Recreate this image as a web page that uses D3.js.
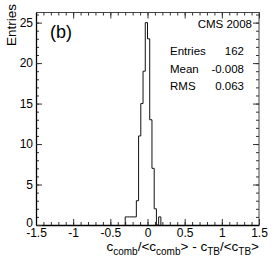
<!DOCTYPE html>
<html><head><meta charset="utf-8">
<script src="https://cdn.jsdelivr.net/npm/d3@7"></script>
<style>body{margin:0;background:#fff}svg{display:block}text{font-family:"Liberation Sans",Arial,Helvetica,sans-serif}</style>
</head><body>
<svg id="c" width="274" height="260"></svg>
<script>
// Histogram data (bin edges, counts)
const binEdges = [-0.30,-0.27,-0.24,-0.21,-0.18,-0.15,-0.12,-0.09,-0.06,-0.03,0.00,0.03,0.06,0.09,0.12,0.15,0.18];
const counts   = [1,1,1,1,1,3,11,15,19,25,23,13,7,2,0,1];
const xTicks = [-1.5,-1,-0.5,0,0.5,1,1.5];
const xTickLabels = ["-1.5","-1","-0.5","0","0.5","1","1.5"];
const yTicks = [0,5,10,15,20,25];
const statNames = ["Entries","Mean","RMS"];
const statValues = ["162","-0.008","0.063"];
const xDomain = [-1.5,1.5];
const yDomain = [0,26.25];

const svg = d3.select("#c");
const L=36, R=259, T=12.5, B=225;
const x = d3.scaleLinear().domain(xDomain).range([L,R]);
const y = d3.scaleLinear().domain(yDomain).range([B,T]);

// frame top/right
svg.append("path").attr("d",`M${L},${T}H${R}V${B}`).attr("fill","none").attr("stroke","#444").attr("stroke-width",1);

// minor ticks
const xMinor = d3.range(-15,16).map(d=>d/10);
const yMinor = d3.range(0,27);
const gxm = svg.append("g").attr("transform",`translate(0,${B})`)
  .call(d3.axisBottom(x).tickValues(xMinor).tickSize(-3).tickFormat(""));
gxm.select(".domain").remove();
const gxmt = svg.append("g").attr("transform",`translate(0,${T})`)
  .call(d3.axisTop(x).tickValues(xMinor).tickSize(-3).tickFormat(""));
gxmt.select(".domain").remove();
const gym = svg.append("g").attr("transform",`translate(${L},0)`)
  .call(d3.axisLeft(y).tickValues(yMinor).tickSize(-3).tickFormat(""));
gym.select(".domain").remove();
const gymr = svg.append("g").attr("transform",`translate(${R},0)`)
  .call(d3.axisRight(y).tickValues(yMinor).tickSize(-3).tickFormat(""));
gymr.select(".domain").remove();
// major ticks on top/right
const gxt = svg.append("g").attr("transform",`translate(0,${T})`)
  .call(d3.axisTop(x).tickValues(xTicks).tickSize(-6).tickFormat(""));
gxt.select(".domain").remove();
const gyr = svg.append("g").attr("transform",`translate(${R},0)`)
  .call(d3.axisRight(y).tickValues(yTicks).tickSize(-6).tickFormat(""));
gyr.select(".domain").remove();

// main axes
const gx = svg.append("g").attr("transform",`translate(0,${B})`)
  .call(d3.axisBottom(x).tickValues(xTicks).tickSize(-6).tickPadding(3).tickSizeOuter(0)
        .tickFormat((d,i)=>xTickLabels[i]));
const gy = svg.append("g").attr("transform",`translate(${L},0)`)
  .call(d3.axisLeft(y).tickValues(yTicks).tickSize(-6).tickPadding(3).tickSizeOuter(0));
[gx,gy].forEach(g=>{
  g.selectAll("text").attr("font-size",12).attr("fill","#000").style("font-family","'Liberation Sans',Arial,sans-serif");
  g.select(".domain").attr("stroke","#000").attr("stroke-width",1.3);
});
gy.selectAll(".tick text").filter(d=>d===0).attr("dy","0.15em");
svg.selectAll(".tick line").attr("stroke","#333");

// histogram outline
let pts = [[x(binEdges[0]), y(0)]];
counts.forEach((c,i)=>{
  pts.push([x(binEdges[i]), y(c)]);
  pts.push([x(binEdges[i+1]), y(c)]);
});
pts.push([x(binEdges[binEdges.length-1]), y(0)]);
svg.append("path").attr("d", d3.line()(pts)).attr("fill","none").attr("stroke","#111").attr("stroke-width",1);

// axis titles
svg.append("text").attr("transform",`translate(16,4) rotate(-90)`).attr("text-anchor","end")
  .attr("font-size",13.5).text("Entries");
const xt = svg.append("text").attr("x",R).attr("y",251).attr("text-anchor","end").attr("font-size",13.5);
const parts = [["c",0],["comb",1],["/<c",0],["comb",1],["> - c",0],["TB",1],["/<c",0],["TB",1],[">",0]];
let cur = 0;
parts.forEach(([t,s])=>{
  const target = s?4:0;
  const ts = xt.append("tspan").text(t).attr("dy", target-cur);
  if(s) ts.attr("font-size",10);
  cur = target;
});

// labels
svg.append("text").attr("x",50).attr("y",38).attr("font-size",18).text("(b)");
svg.append("text").attr("x",252).attr("y",28).attr("text-anchor","end").attr("font-size",11.5).text("CMS 2008");
statNames.forEach((n,i)=>{
  svg.append("text").attr("x",170).attr("y",55+i*17.5).attr("font-size",11.5).text(n);
  svg.append("text").attr("x",244).attr("y",55+i*17.5).attr("text-anchor","end").attr("font-size",11.5).text(statValues[i]);
});
</script>
</body></html>
